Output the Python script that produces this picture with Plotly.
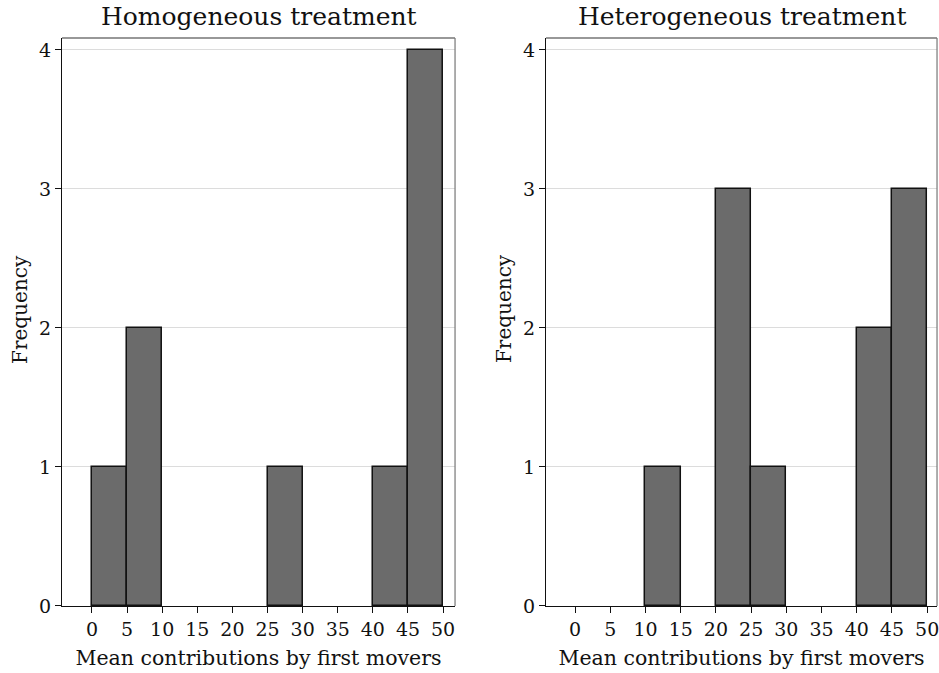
import plotly.graph_objects as go

bin_width = 5
bin_starts = [0, 5, 10, 15, 20, 25, 30, 35, 40, 45]
homog_counts = [1, 2, 0, 0, 0, 1, 0, 0, 1, 4]
heter_counts = [0, 0, 1, 0, 3, 1, 0, 0, 2, 3]
titles = ["Homogeneous treatment", "Heterogeneous treatment"]
x_ticks = [0, 5, 10, 15, 20, 25, 30, 35, 40, 45, 50]
y_ticks = [0, 1, 2, 3, 4]

FONT = "DejaVu Serif"
W, H = 939, 673
fig = go.Figure()

centers = [b + bin_width / 2 for b in bin_starts]
for i, counts in enumerate([homog_counts, heter_counts]):
    xs = [c for c, n in zip(centers, counts) if n > 0]
    ys = [n for n in counts if n > 0]
    fig.add_trace(go.Bar(
        x=xs, y=ys, width=bin_width,
        marker=dict(color="#6b6b6b", line=dict(color="#111111", width=1.5)),
        xaxis="x" if i == 0 else "x2", yaxis="y" if i == 0 else "y2",
        showlegend=False,
    ))

dom_y = [0.0996, 0.9435]
common_y = dict(range=[0, 4.086], tickvals=y_ticks, ticks="outside", ticklen=6,
                tickcolor="#111", showline=True, linecolor="#111", linewidth=1.3,
                showgrid=True, gridcolor="#dcdcdc", gridwidth=1.2, zeroline=False,
                automargin=False, ticklabeloverflow="allow",
                tickfont=dict(family=FONT, size=19, color="#111"))
common_x = dict(tickvals=x_ticks, ticks="outside", ticklen=6, tickcolor="#111",
                showline=True, linecolor="#111", linewidth=1.3, showgrid=False, zeroline=False,
                automargin=False, ticklabeloverflow="allow",
                tickfont=dict(family=FONT, size=19, color="#111"),
                title=dict(text="Mean contributions by first movers",
                           font=dict(family=FONT, size=20.5, color="#111"), standoff=11))

fig.update_layout(
    width=W, height=H, margin=dict(l=0, r=0, t=0, b=0),
    plot_bgcolor="white", paper_bgcolor="white", bargap=0,
    xaxis=dict(domain=[0.0660, 0.4846], range=[-4.27, 51.7], anchor="y", **common_x),
    yaxis=dict(domain=dom_y, anchor="x", **common_y),
    xaxis2=dict(domain=[0.5815, 0.9979], range=[-4.13, 51.4], anchor="y2", **common_x),
    yaxis2=dict(domain=dom_y, anchor="x2", **common_y),
)

for i, (x0, x1) in enumerate([(0.0660, 0.4846), (0.5815, 0.9979)]):
    fig.add_shape(type="line", xref="paper", yref="paper", x0=x0, x1=x1, y0=dom_y[1], y1=dom_y[1],
                  line=dict(color="#333", width=1.2))
    fig.add_shape(type="line", xref="paper", yref="paper", x0=x1, x1=x1, y0=dom_y[0], y1=dom_y[1],
                  line=dict(color="#777", width=1.2))
    fig.add_annotation(text=titles[i], xref="paper", yref="paper", x=(x0 + x1) / 2, y=1.0,
                       xanchor="center", yanchor="top", yshift=0, showarrow=False,
                       font=dict(family=FONT, size=25, color="#111"))
    fig.add_annotation(text="Frequency", xref="paper", yref="paper",
                       x=x0, xshift=-42, y=1 - 309 / H, textangle=-90,
                       xanchor="center", yanchor="middle", showarrow=False,
                       font=dict(family=FONT, size=20, color="#111"))

fig.write_html("out.html")
